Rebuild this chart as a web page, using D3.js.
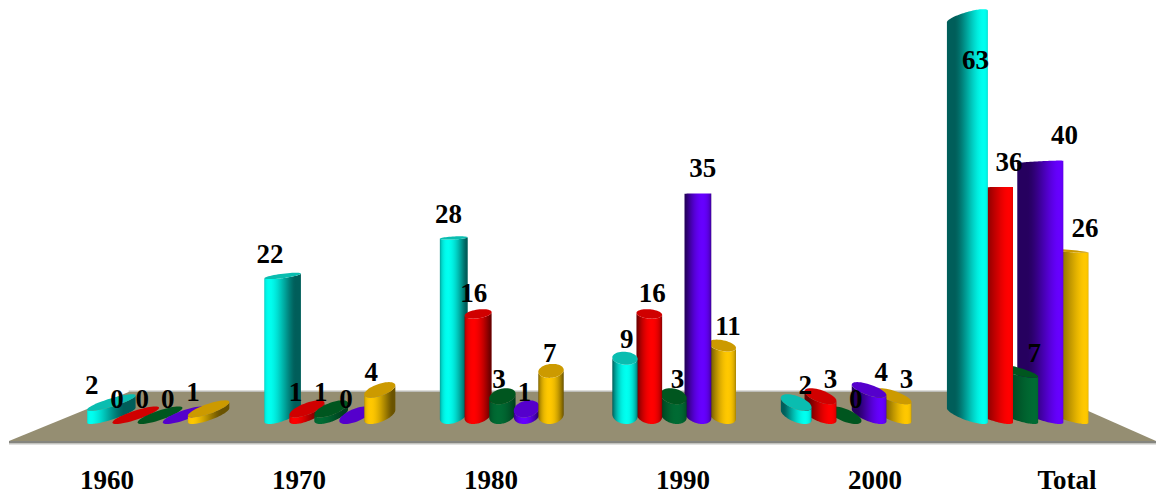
<!DOCTYPE html>
<html>
<head>
<meta charset="utf-8">
<script src="https://cdn.jsdelivr.net/npm/d3@7/dist/d3.min.js"></script>
<style>
html,body{margin:0;padding:0;background:#fff;overflow:hidden}
text{font-family:"Liberation Serif",serif;font-weight:bold;fill:#000;font-size:27px;text-anchor:middle}
</style>
</head>
<body>
<svg id="chart" width="1156" height="495"></svg>
<script>
const categories = ["1960","1970","1980","1990","2000","Total"];
const seriesNames = ["A","B","C","D","E"];
const seriesA = [2,22,28,9,2,63];
const seriesB = [0,1,16,16,3,36];
const seriesC = [0,1,3,3,0,7];
const seriesD = [0,0,1,35,4,40];
const seriesE = [1,4,7,11,3,26];
const seriesValues = [seriesA,seriesB,seriesC,seriesD,seriesE];
const brightColors = ["#00fff0","#ff0000","#006b33","#6600ff","#ffc800"];
const darkColors   = ["#005e5a","#6a0000","#00401e","#26005f","#6a5300"];
const capColors    = ["#0abdb0","#d00000","#00561f","#5500cc","#cc9a00"];

const svg = d3.select("#chart");
const defs = svg.append("defs");

// perspective set-up of the floor and the columns
const horizonY = 197, floorVanishX = 605, columnVanishX = 592;
const baseFront = 424, ringDepth = 8.8, ringRadius = 12.6, shearRate = 0.043;
const baseY = baseFront - ringDepth;
const depthPerPixel = ringDepth / (baseY - horizonY);

const groupX = d3.scalePoint().domain(categories).range([160, 1016]);
const columnX = d3.scalePoint().domain(seriesNames).range([-48.6, 48.6]);
const heightY = d3.scaleLinear().domain([0,63]).range([baseY, baseY - 63*6.33]);
const labelX = d3.scalePoint().domain(categories).range([107, 1067]);

// floor slab
const floorLeft = 9, floorRight = 1156, floorFront = 441, floorBack = 392;
const edgeAt = (x, y) => x + (floorVanishX - x) * (floorFront - y) / (floorFront - horizonY);
svg.append("polygon")
  .attr("points", [[floorLeft,floorFront],[edgeAt(floorLeft,floorBack),floorBack],[edgeAt(floorRight,floorBack),floorBack],[floorRight,floorFront]].join(" "))
  .attr("fill","#958e72");
svg.append("rect").attr("x",edgeAt(floorLeft,floorBack)).attr("y",floorBack-1.5)
  .attr("width",edgeAt(floorRight,floorBack)-edgeAt(floorLeft,floorBack)).attr("height",1.5).attr("fill","#bdbdb8");
svg.append("rect").attr("x",floorLeft).attr("y",floorFront).attr("width",floorRight-floorLeft).attr("height",2.5).attr("fill","#85857f");
svg.append("rect").attr("x",floorLeft).attr("y",floorFront+2.5).attr("width",floorRight-floorLeft).attr("height",1).attr("fill","#c4c4c0");

const columns = [];
categories.forEach((cat,g) => seriesNames.forEach((name,k) => {
  columns.push({g,k,cat,name,value:seriesValues[k][g],cx:groupX(cat)+columnX(name)});
}));

// columns closer to the centre line overlap those further out
columns.sort((p,q) => Math.abs(q.cx-columnVanishX) - Math.abs(p.cx-columnVanishX));

function ringPoint(c, y, t){
  const depth = (y - horizonY) * depthPerPixel;
  return [c.cx + ringRadius*Math.cos(t) - c.shear*Math.sin(t), y + depth*Math.sin(t)];
}

columns.forEach((c,i) => {
  c.shear = (columnVanishX - c.cx) * shearRate;
  const phi = Math.atan2(c.shear, ringRadius);
  const reach = Math.hypot(c.shear, ringRadius);
  const t0 = -phi, t1 = Math.PI - phi;
  const topY = heightY(c.value);
  const ts = d3.range(0,49).map(j => t0 + (t1-t0)*j/48);
  const group = svg.append("g");

  if (c.value > 0) {
    const gradId = "col"+i;
    const grad = defs.append("linearGradient").attr("id",gradId)
      .attr("gradientUnits","userSpaceOnUse")
      .attr("x1",c.cx-reach).attr("x2",c.cx+reach).attr("y1",0).attr("y2",0);
    const shade = d3.interpolateRgb(darkColors[c.k], brightColors[c.k]);
    const stops = d3.range(0,25).map(j => t0 + (t1-t0)*j/24).map(t => ({
      x:(ringPoint(c,baseY,t)[0]-(c.cx-reach))/(2*reach),
      l:Math.max(0,Math.sin(t))
    })).sort((p,q)=>p.x-q.x);
    stops.forEach(s => grad.append("stop").attr("offset",s.x).attr("stop-color",shade(Math.pow(s.l,1.6))));
    const outline = ts.map(t => ringPoint(c,baseY,t)).concat(ts.slice().reverse().map(t => ringPoint(c,topY,t)));
    group.append("path").attr("d", d3.line()(outline)+"Z").attr("fill",`url(#${gradId})`);
  }
  if (topY > horizonY) {
    const cap = d3.range(0,49).map(j => ringPoint(c,topY,2*Math.PI*j/48));
    group.append("path").attr("d", d3.line()(cap)+"Z").attr("fill",capColors[c.k]);
  }
});

// value labels sit above each column, drifting outwards with the perspective
const valueLabels = columns.slice().sort((p,q)=>p.g-q.g||p.k-q.k);
valueLabels.forEach(c => {
  const top = heightY(c.value);
  let x = c.cx + (c.cx - floorVanishX) * 0.042 + 1;
  let y = top - 16.5 - c.value * 0.25;
  if (y < 20) { y = top + 44; x -= 8; }
  if (c.value === 40) x += 5;
  svg.append("text").attr("x",x).attr("y",y).attr("dy","0.33em").text(c.value);
});

// category labels along the front of the floor
categories.forEach(cat => {
  svg.append("text").attr("x",labelX(cat)).attr("y",480).attr("dy","0.33em").text(cat);
});
</script>
</body>
</html>
